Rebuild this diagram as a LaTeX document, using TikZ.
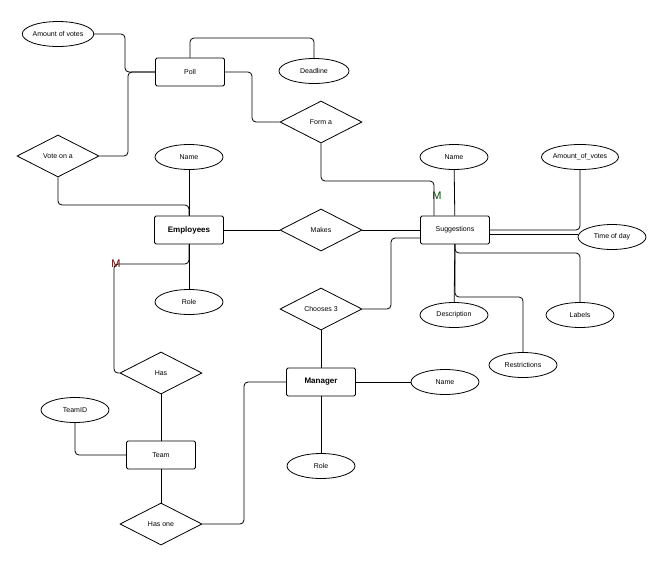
\documentclass[tikz,border=0pt]{standalone}
\usepackage{fontspec}
\setmainfont{Liberation Sans}
\usetikzlibrary{%
	positioning,
	shapes.geometric
}
\begin{document}
\begin{tikzpicture}[x=1pt,y=-1pt,
		entity/.style={draw,thick,rounded corners=1.5pt,minimum width=69pt,minimum height=28pt,font=\fontsize{7}{8}\selectfont,inner sep=0pt},
		attr/.style={draw,thick,ellipse,minimum width=68pt,minimum height=25pt,font=\fontsize{7}{8}\selectfont,inner sep=0pt},
		rel/.style={draw,thick,diamond,minimum width=82pt,minimum height=42pt,font=\fontsize{7}{8}\selectfont,inner sep=0pt,aspect=2},
		link/.style={thick,rounded corners=4pt},
		card/.style={font=\fontsize{11}{12}\selectfont,text=black!70!green,inner sep=0pt}
	]
	\useasboundingbox (0,0) rectangle (653,582);

	% entities
	\node (poll) [entity] at (190,72) {Poll};
	\node (emp) [entity] at (189,230) {\bfseries\fontsize{8}{9}\selectfont Employees};
	\node (sugg) [entity] at (455,230) {Suggestions};
	\node (mgr) [entity] at (321,382) {\bfseries\fontsize{8}{9}\selectfont Manager};
	\node (team) [entity] at (161,455) {Team};

	% attributes
	\node (votes) [attr] at (58,34) {Amount of votes};
	\node (deadline) [attr, minimum width=70pt] at (314,71) {Deadline};
	\node (emp-name) [attr] at (189,157) {Name};
	\node (emp-role) [attr] at (189,302) {Role};
	\node (sugg-name) [attr] at (454,157) {Name};
	\node (sugg-votes) [attr] at (580,157) {Amount\_of\_votes};
	\node (sugg-time) [attr] at (612,237) {Time of day};
	\node (sugg-desc) [attr] at (454,315) {Description};
	\node (sugg-labels) [attr] at (580,315) {Labels};
	\node (sugg-restr) [attr] at (523,365) {Restrictions};
	\node (mgr-name) [attr] at (445,382) {Name};
	\node (mgr-role) [attr] at (321,466) {Role};
	\node (teamid) [attr] at (75,410) {TeamID};

	% relationships
	\node (form) [rel] at (321,122) {Form a};
	\node (vote) [rel] at (58,156) {Vote on a};
	\node (makes) [rel] at (321,230) {Makes};
	\node (chooses) [rel] at (321,309) {Chooses 3};
	\node (has) [rel] at (161,373) {Has};
	\node (hasone) [rel] at (161,524) {Has one};

	% connectors
	\draw [link] (votes.east) -| (125,72) -- (poll.west);
	\draw [link] (poll.north) |- (314,38) -- (deadline.north);
	\draw [link] (poll.east) -| (252,122) -- (form.west);
	\draw [link] (vote.east) -| (128,72) -- (poll.west);
	\draw [link] (vote.south) |- (189,205) -- (emp.north);
	\draw [link] (emp-name) -- (emp);
	\draw [link] (emp) -- (makes) -- (sugg);
	\draw [link] (form.south) |- (434,181) -- (sugg.north -| 434,0);
	\draw [link] (emp.south) |- (114,264) -- (114,373) -- (has.west);
	\draw [link] (emp) -- (emp-role);
	\draw [link] (chooses.east) -| (391,238) -- (sugg.west |- 0,238);
	\draw [link] (chooses) -- (mgr);
	\draw [link] (sugg) -- (sugg-name);
	\draw [link] (sugg.east |- 0,230) -| (sugg-votes.south);
	\draw [link] (sugg.east |- 0,234) -- (sugg-time.west |- 0,234);
	\draw [link] (sugg) -- (sugg-desc);
	\draw [link] (455,244) |- (580,253) -- (sugg-labels.north);
	\draw [link] (455,244) |- (523,297) -- (sugg-restr.north);
	\draw [link] (has) -- (team);
	\draw [link] (team.west) -| (teamid.south);
	\draw [link] (team) -- (hasone);
	\draw [link] (hasone.east) -| (244,382) -- (mgr.west);
	\draw [link] (mgr) -- (mgr-name);
	\draw [link] (mgr) -- (mgr-role);

	% cardinalities
	\node (m-sugg) [card] at (437,196) {M};
	\node (m-emp) [card, text=black!60!red] at (116,264) {M};
\end{tikzpicture}
\end{document}
